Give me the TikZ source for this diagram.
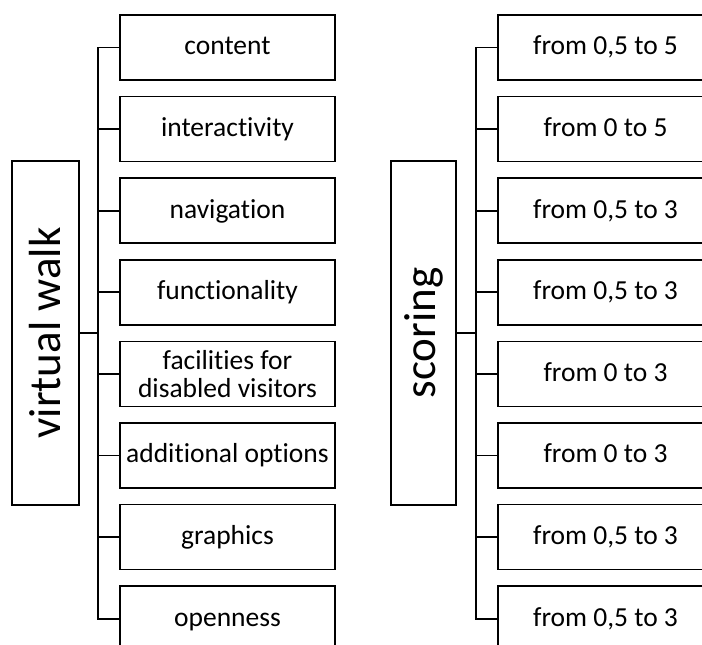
\documentclass[tikz,border=0pt]{standalone}
\usepackage{fontspec}
\setmainfont{Carlito}[Ligatures=NoCommon]
\usetikzlibrary{positioning}

\begin{document}
\begin{tikzpicture}[x=1pt,y=1pt,node distance=81.6pt,line width=1.7pt]
%line width as in the scan

  \tikzstyle{item}=[draw,minimum width=215pt,minimum height=65pt,inner sep=0pt,text height=18pt,text depth=3pt,font=\fontsize{27.5}{28}\selectfont]
  \tikzstyle{pair}=[draw,minimum width=215pt,minimum height=65pt,inner sep=0pt,align=center,font=\fontsize{27.5}{28}\selectfont]
  \tikzstyle{root}=[draw,minimum width=67pt,minimum height=344pt,inner sep=0pt,font=\fontsize{45}{50}\selectfont]

  \clip (0,0) rectangle (702,645);

  % left tree
  \node[root] (walk) at (45.5,312) {\rotatebox{90}{virtual walk}};
  \node[item] (content) at (227.5,597.5) {content};
  \node[item] (inter) [below of=content] {interactivity};
  \node[item] (navi)  [below of=inter]   {navigation};
  \node[item] (func)  [below of=navi]    {functionality};
  \node[pair] (facil) [below of=func]    {facilities for\\disabled visitors};
  \node[item] (addit) [below of=facil]   {additional options};
  \node[item] (graph) [below of=addit]   {graphics};
  \node[item] (open)  [below of=graph]   {openness};

  % right tree
  \node[root,minimum width=65pt] (score) at (423.5,312) {\rotatebox{90}{scoring}};
  \node[item] (sa) at (605.5,597.5) {from 0,5 to 5};
  \node[item] (sb) [below of=sa] {from 0 to 5};
  \node[item] (sc) [below of=sb] {from 0,5 to 3};
  \node[item] (sd) [below of=sc] {from 0,5 to 3};
  \node[item] (se) [below of=sd] {from 0 to 3};
  \node[item] (sf) [below of=se] {from 0 to 3};
  \node[item] (sg) [below of=sf] {from 0,5 to 3};
  \node[item] (sh) [below of=sg] {from 0,5 to 3};

  \path (content.west) ++(-21,0) coordinate (ltop);
  \path (open.west) ++(-21,0) coordinate (lbot);
  \path (sa.west) ++(-21,0) coordinate (rtop);
  \path (sh.west) ++(-21,0) coordinate (rbot);

  \draw (content.west) -- (ltop) -- (lbot) -- (open.west);
  \draw (walk.east) -- (walk.east -| ltop);
  \foreach \n in {inter,navi,func,facil,addit,graph}
    \draw (\n.west) -- (\n.west -| ltop);

  \draw (sa.west) -- (rtop) -- (rbot) -- (sh.west);
  \draw (score.east) -- (score.east -| rtop);
  \foreach \n in {sb,sc,sd,se,sf,sg}
    \draw (\n.west) -- (\n.west -| rtop);

\end{tikzpicture}
\end{document}
